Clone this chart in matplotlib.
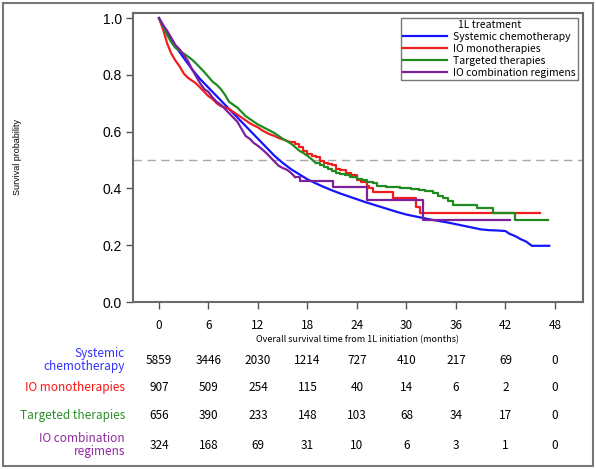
import matplotlib.pyplot as plt
from matplotlib.patches import Rectangle
from matplotlib.transforms import blended_transform_factory

# survival curve knots (months, survival probability)
t_chemo = [0, 1, 2, 3, 4, 5, 6, 7, 8, 9, 10, 11, 12, 13, 14, 15, 16, 17, 18, 19, 20,
           21, 22, 23, 24, 25, 26, 27, 28, 29, 30, 31, 32, 33, 34, 35, 36, 37, 38, 39,
           40, 41, 42, 42.5, 43.2, 43.8, 44.5, 45.2, 47.3]
s_chemo = [1.0, 0.95, 0.90, 0.86, 0.82, 0.785, 0.755, 0.725, 0.695, 0.665, 0.635, 0.605,
           0.575, 0.545, 0.515, 0.49, 0.468, 0.45, 0.432, 0.418, 0.405, 0.393, 0.382,
           0.372, 0.362, 0.352, 0.343, 0.334, 0.325, 0.316, 0.308, 0.302, 0.296, 0.29,
           0.285, 0.28, 0.274, 0.268, 0.262, 0.256, 0.253, 0.252, 0.25, 0.24, 0.232,
           0.222, 0.213, 0.198, 0.198]

t_iomono = [0, 0.5, 1, 1.5, 2, 2.5, 3, 3.5, 4, 4.5, 5, 5.5, 6, 6.5, 7, 7.5, 8, 8.5, 9,
            9.5, 10, 10.5, 11, 11.5, 12, 12.5, 13, 13.5, 14, 14.5, 15, 15.5, 16, 16.5,
            17, 17.5, 18, 18.5, 19, 19.5, 20, 20.5, 21, 21.5, 22, 22.7, 23.3, 24, 24.5,
            25.2, 25.5, 26, 28.4, 31.2, 31.6, 46.2]
s_iomono = [1.0, 0.96, 0.91, 0.875, 0.85, 0.83, 0.805, 0.79, 0.78, 0.77, 0.755, 0.74,
            0.725, 0.715, 0.70, 0.69, 0.685, 0.68, 0.67, 0.66, 0.65, 0.64, 0.63, 0.622,
            0.615, 0.605, 0.597, 0.59, 0.585, 0.578, 0.573, 0.568, 0.562, 0.556, 0.545,
            0.532, 0.52, 0.516, 0.51, 0.498, 0.49, 0.487, 0.483, 0.47, 0.465, 0.454,
            0.448, 0.43, 0.424, 0.41, 0.40, 0.389, 0.366, 0.336, 0.313, 0.313]

t_target = [0, 0.5, 1, 1.5, 2, 2.5, 3, 3.5, 4, 4.5, 5, 5.5, 6, 6.5, 7, 7.5, 8, 8.5, 9,
            9.5, 10, 10.5, 11, 11.5, 12, 12.5, 13, 13.5, 14, 14.5, 15, 15.5, 16, 16.5,
            17, 17.5, 18, 18.5, 19, 19.5, 20, 20.5, 21, 21.5, 22, 22.5, 23.2, 24, 24.6,
            25.2, 26, 26.4, 27.5, 29.2, 30.5, 31.5, 32.3, 33.2, 33.8, 34.4, 35, 35.7,
            38.5, 40.5, 43.2, 47.2]
s_target = [1.0, 0.97, 0.94, 0.915, 0.895, 0.885, 0.875, 0.865, 0.854, 0.84, 0.825,
            0.81, 0.793, 0.776, 0.765, 0.75, 0.73, 0.705, 0.695, 0.685, 0.67, 0.655,
            0.645, 0.635, 0.625, 0.618, 0.61, 0.603, 0.595, 0.585, 0.575, 0.567, 0.558,
            0.546, 0.533, 0.525, 0.515, 0.503, 0.49, 0.483, 0.475, 0.47, 0.462, 0.455,
            0.45, 0.447, 0.442, 0.435, 0.43, 0.424, 0.418, 0.408, 0.405, 0.401, 0.398,
            0.395, 0.39, 0.383, 0.375, 0.366, 0.355, 0.342, 0.330, 0.313, 0.289, 0.289]

t_iocombo = [0, 0.5, 1, 1.5, 2, 2.5, 3, 3.5, 4, 4.5, 5, 5.5, 6, 6.5, 7, 7.5, 8, 8.5, 9,
             9.5, 10, 10.5, 11, 11.5, 12, 12.5, 13, 13.5, 14, 14.5, 15, 15.5, 16, 16.5,
             17.1, 21.1, 25.2, 32, 42.5]
s_iocombo = [1.0, 0.975, 0.955, 0.93, 0.905, 0.89, 0.87, 0.85, 0.82, 0.795, 0.77, 0.75,
             0.74, 0.72, 0.705, 0.695, 0.68, 0.665, 0.65, 0.635, 0.61, 0.585, 0.575,
             0.56, 0.55, 0.538, 0.525, 0.51, 0.495, 0.48, 0.472, 0.466, 0.455, 0.44,
             0.428, 0.405, 0.36, 0.289, 0.289]

# month after which each curve is drawn as visible K-M steps
step_from = [99, 16, 19, 16.5]

# numbers at risk
risk_times = [0, 6, 12, 18, 24, 30, 36, 42, 48]
risk_chemo = [5859, 3446, 2030, 1214, 727, 410, 217, 69, 0]
risk_iomono = [907, 509, 254, 115, 40, 14, 6, 2, 0]
risk_target = [656, 390, 233, 148, 103, 68, 34, 17, 0]
risk_iocombo = [324, 168, 69, 31, 10, 6, 3, 1, 0]

names = ['Systemic chemotherapy', 'IO monotherapies', 'Targeted therapies',
         'IO combination regimens']
row_names = ['Systemic\nchemotherapy', 'IO monotherapies', 'Targeted therapies',
             'IO combination\nregimens']
colors = ['#1414ff', '#f21c1c', '#1f8a1f', '#7e1f9c']
text_colors = ['#3030ff', '#ff1010', '#2a8f2a', '#8e2a9e']

jp = ['Noto Sans CJK JP', 'DejaVu Sans']
ar = ['Liberation Sans', 'DejaVu Sans']

W, H = 596, 469
fig = plt.figure(figsize=(W / 100, H / 100), dpi=100)
ax = fig.add_axes([133 / W, 1 - 302 / H, 450 / W, (302 - 13.3) / H])

curves = [(t_chemo, s_chemo), (t_iomono, s_iomono), (t_target, s_target),
          (t_iocombo, s_iocombo)]
for (t, s), sf, c, n in zip(curves, step_from, colors, names):
    k = max(i for i, v in enumerate(t) if v <= sf)
    # dense early part: smooth line, sparse tail: steps
    ax.plot(t[:k + 1], s[:k + 1], color=c, lw=1.6, label=n, zorder=3)
    if k < len(t) - 1:
        ax.plot(t[k:], s[k:], color=c, lw=1.6, drawstyle='steps-post', zorder=3)

ax.axhline(0.5, color='#a8a8a8', lw=1, dashes=(6, 4), zorder=1)

ax.set_xlim(-3.15, 51.4)
ax.set_ylim(0, 1.017)
ax.set_xticks(risk_times)
ax.set_yticks([0, 0.2, 0.4, 0.6, 0.8, 1.0])
ax.set_yticklabels(['0.0', '0.2', '0.4', '0.6', '0.8', '1.0'], family=ar, fontsize=10)
ax.set_xticklabels([str(v) for v in risk_times], family=jp, fontsize=8.5)
ax.tick_params(axis='both', direction='out', length=5, width=1, color='#555555')
ax.tick_params(axis='x', pad=7)
ax.tick_params(axis='y', pad=3)
for sp in ax.spines.values():
    sp.set_color('#6a6a6a')
    sp.set_linewidth(1.5)

fig.text(18 / W, 1 - 157 / H, 'Survival probability', rotation=90, ha='center',
         va='center', fontsize=6.5, family=ar)
fig.text(358 / W, 1 - 340 / H, 'Overall survival time from 1L initiation (months)',
         ha='center', va='center', fontsize=6.5, family=jp)

leg = ax.legend(loc='upper right', bbox_to_anchor=(578 / W, 1 - 18 / H),
                bbox_transform=fig.transFigure, title='1L treatment',
                prop={'family': jp, 'size': 7.5},
                title_fontproperties={'family': jp, 'size': 7.5},
                frameon=True, fancybox=False, handlelength=4.2, handletextpad=0.6,
                labelspacing=0.18, borderpad=0.2, borderaxespad=0)
leg.get_frame().set_edgecolor('#555555')
leg.get_frame().set_linewidth(1)

# numbers at risk table
tr = blended_transform_factory(ax.transData, fig.transFigure)
row_y = [360, 387, 415, 445]
risks = [risk_chemo, risk_iomono, risk_target, risk_iocombo]
for y, lab, col, vals in zip(row_y, row_names, text_colors, risks):
    fig.text(125 / W, 1 - y / H, lab, ha='right', va='center', color=col,
             fontsize=8.5, family=jp, linespacing=1.05)
    for tv, v in zip(risk_times, vals):
        ax.text(tv, 1 - y / H, str(v), transform=tr, ha='center', va='center',
                fontsize=8.5, family=jp, clip_on=False)

fig.patches.append(Rectangle((3 / W, 3 / H), 590 / W, 463 / H, transform=fig.transFigure,
                             fill=False, edgecolor='#777777', lw=1.5))

fig.savefig('out.png', dpi=100)
